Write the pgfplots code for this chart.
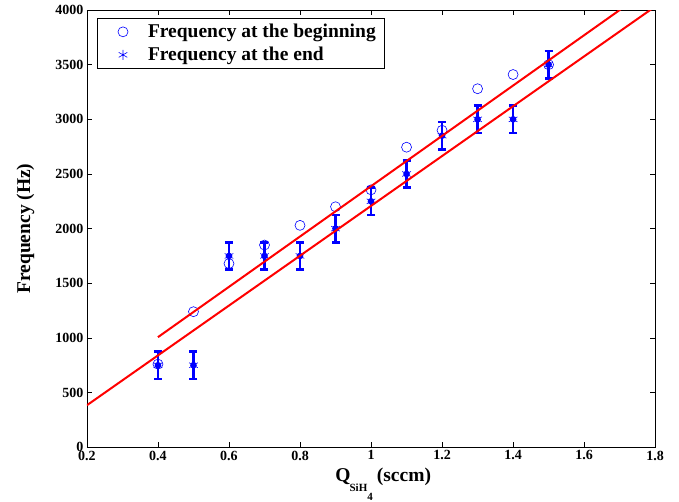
\documentclass[border=0pt]{standalone}
\usepackage{fontspec}
\setmainfont{Liberation Serif}
\usepackage{pgfplots}
\pgfplotsset{compat=1.18}
\begin{document}
\begin{tikzpicture}
\begin{axis}[
  scale only axis,
  width=568bp, height=437bp,
  xmin=0.2, xmax=1.8, ymin=0, ymax=4000,
  xtick={0.2,0.4,...,1.8}, ytick={0,500,...,4000},
  tick align=inside,
  major tick length=5bp,
  scaled ticks=false,
  /pgf/number format/assume math mode=true,
  xticklabel style={font=\fontsize{14bp}{16bp}\selectfont\bfseries, /pgf/number format/fixed},
  yticklabel style={font=\fontsize{14bp}{16bp}\selectfont\bfseries, /pgf/number format/fixed, /pgf/number format/1000 sep={}},
  xlabel={Q\hspace{-1bp}\raisebox{-10bp}{\fontsize{11bp}{11bp}\selectfont SiH\raisebox{-9bp}{4}}\hspace{4bp}(sccm)},
  ylabel={Frequency (Hz)},
  xlabel style={font=\fontsize{19.5bp}{22bp}\selectfont\bfseries, at={(axis description cs:0.437,-0.046)}, anchor=north west, inner sep=0pt},
  ylabel style={font=\fontsize{19.5bp}{22bp}\selectfont\bfseries, at={(axis description cs:-0.108,0.5)}, anchor=center},
  axis line style={line width=0.8bp},
  every tick/.style={line width=0.6bp, black},
  legend style={font=\fontsize{19.5bp}{22bp}\selectfont\bfseries, draw=black, line width=0.8bp,
    at={(axis description cs:0.017,0.982)}, anchor=north west, inner xsep=7bp, inner ysep=4bp,
    row sep=4bp, /tikz/every odd column/.append style={column sep=9bp}},
  legend image code/.code={\path[draw=none,fill=none] (-19bp,0) rectangle (14bp,0); \draw[#1] plot coordinates {(0bp,0bp)};},
  legend cell align=left,
  clip mode=individual,
]
\addplot[only marks, blue, mark=o, mark size=5bp, line width=0.6bp] coordinates {
(0.4,760) (0.5,1240) (0.6,1680) (0.7,1850) (0.8,2030) (0.9,2200) (1.0,2355) (1.1,2745) (1.2,2900) (1.3,3280) (1.4,3410) (1.5,3500)};
\addlegendentry{Frequency at the beginning}
\addplot[only marks, blue, mark=none, line width=2.5bp, forget plot,
  error bars/.cd, y dir=both, y explicit,
  error bar style={line width=2.5bp, blue},
  error mark options={rotate=90, mark size=4bp, line width=2.5bp, blue}]
 coordinates {
(0.4,750) +- (0,125) (0.5,750) +- (0,125) (0.6,1750) +- (0,125) (0.7,1750) +- (0,125)
(0.8,1750) +- (0,125) (0.9,2000) +- (0,125) (1.0,2250) +- (0,125) (1.1,2500) +- (0,125)
(1.2,2850) +- (0,125) (1.3,3000) +- (0,125) (1.4,3000) +- (0,125) (1.5,3500) +- (0,125)};
\addplot[only marks, blue, mark=asterisk, mark size=5bp, line width=0.6bp] coordinates {
(0.4,750) (0.5,750) (0.6,1750) (0.7,1750) (0.8,1750) (0.9,2000) (1.0,2250) (1.1,2500) (1.2,2850) (1.3,3000) (1.4,3000) (1.5,3500)};
\addlegendentry{Frequency at the end}
\addplot[red, line width=2bp, forget plot] coordinates {(0.4,1007) (1.8,4230)};
\addplot[red, line width=2bp, forget plot] coordinates {(0.2,384) (1.8,4032)};
\path (axis description cs:-0.153,-0.124) rectangle (axis description cs:1.042,1.023);
\end{axis}
\end{tikzpicture}
\end{document}
